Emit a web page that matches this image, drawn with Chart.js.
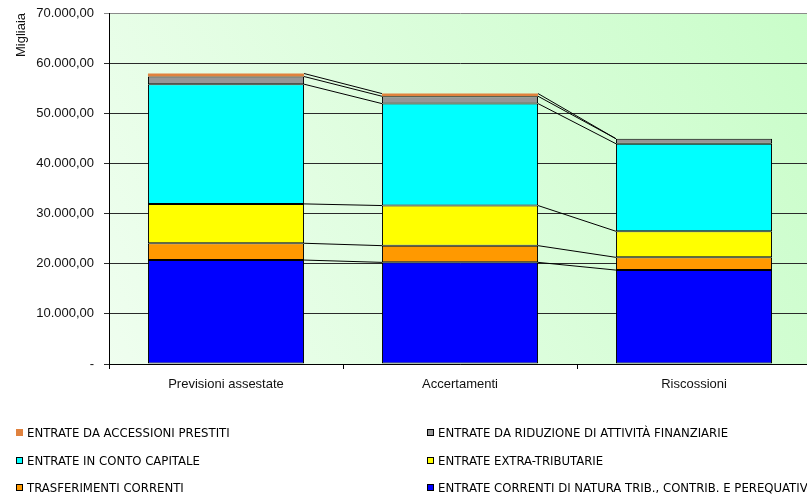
<!DOCTYPE html>
<html>
<head>
<meta charset="utf-8">
<script src="https://cdn.jsdelivr.net/npm/chart.js@4.4.1/dist/chart.umd.min.js"></script>
<style>
    html, body { margin: 0; padding: 0; background: #fff; overflow: hidden; }
    #wrap { position: relative; width: 811px; height: 500px; }
    #legend { position: absolute; left: 0; top: 0; width: 811px; height: 500px; pointer-events: none;
              font-family: 'Liberation Sans Narrow', 'DejaVu Sans Condensed', sans-serif; font-size: 13px; color: #000; }
    .item { position: absolute; white-space: nowrap; line-height: 14px; }
    .box { position: absolute; width: 7px; height: 7px; top: 3px; left: 0; box-sizing: border-box; }
    .txt { position: absolute; left: 11px; top: 0; }
</style>
</head>
<body>
<div id="wrap">
    <canvas id="chart"></canvas>
    <div id="legend"></div>
</div>
<script>
// Values in thousands of euro
const categories = ['Previsioni assestate', 'Accertamenti', 'Riscossioni'];
const entrateCorrenti = [20730, 20270, 18730];
const trasferimentiCorrenti = [3350, 3330, 2540];
const entrateExtraTributarie = [7850, 8000, 5200];
const entrateContoCapitale = [23870, 20330, 17460];
const riduzioneAttivita = [1530, 1470, 1000];
const accensioniPrestiti = [600, 530, 0];

const yTicks = [0, 10000, 20000, 30000, 40000, 50000, 60000, 70000];

const series = [
    { label: 'ENTRATE CORRENTI DI NATURA TRIB., CONTRIB. E PEREQUATIVA', data: entrateCorrenti, color: '#0000ff', border: 1 },
    { label: 'TRASFERIMENTI CORRENTI', data: trasferimentiCorrenti, color: '#ff9900', border: 1 },
    { label: 'ENTRATE EXTRA-TRIBUTARIE', data: entrateExtraTributarie, color: '#ffff00', border: 1 },
    { label: 'ENTRATE IN CONTO CAPITALE', data: entrateContoCapitale, color: '#00ffff', border: 1 },
    { label: 'ENTRATE DA RIDUZIONE DI ATTIVITÀ FINANZIARIE', data: riduzioneAttivita, color: '#969696', border: 1 },
    { label: 'ENTRATE DA ACCESSIONI PRESTITI', data: accensioniPrestiti, color: '#e0823e', border: 0 }
];

function fmtIt(v) {
    if (v === 0) return '-';
    const s = Math.round(v).toString().replace(/\B(?=(\d{3})+(?!\d))/g, '.');
    return s + ',00';
}

const FONT = "'Liberation Sans', Arial, sans-serif";

// light green gradient behind the plot
const plotBackground = {
    id: 'plotBackground',
    beforeDraw(chart) {
        const { ctx, chartArea: a } = chart;
        const g = ctx.createLinearGradient(a.left, a.bottom, a.right, a.top);
        g.addColorStop(0, '#effeef');
        g.addColorStop(1, '#c9fdc9');
        ctx.save();
        ctx.fillStyle = g;
        ctx.fillRect(a.left, a.top, a.right - a.left, a.bottom - a.top);
        ctx.restore();
    }
};

// Excel style series lines between the stacked segments
const seriesLines = {
    id: 'seriesLines',
    afterDatasetsDraw(chart) {
        const ctx = chart.ctx;
        ctx.save();
        ctx.strokeStyle = '#000';
        ctx.lineWidth = 1;
        chart.data.datasets.forEach((ds, i) => {
            const bars = chart.getDatasetMeta(i).data;
            for (let k = 0; k < bars.length - 1; k++) {
                const a = bars[k], b = bars[k + 1];
                ctx.beginPath();
                ctx.moveTo(a.x + a.width / 2, a.y);
                ctx.lineTo(b.x - b.width / 2, b.y);
                ctx.stroke();
            }
        });
        ctx.restore();
    }
};

const chart = new Chart(document.getElementById('chart'), {
    type: 'bar',
    data: {
        labels: categories,
        datasets: series.map(s => ({
            label: s.label,
            data: s.data,
            backgroundColor: s.color,
            borderColor: '#000',
            borderWidth: s.border,
            borderSkipped: false,
            inflateAmount: 0,
            categoryPercentage: 1.0,
            barPercentage: 0.667
        }))
    },
    options: {
        responsive: true,
        maintainAspectRatio: false,
        animation: false,
        layout: { padding: { top: 13, bottom: 99, left: 0, right: 0 } },
        plugins: {
            legend: { display: false },
            tooltip: { enabled: false }
        },
        scales: {
            x: {
                stacked: true,
                afterFit(scale) { scale.height = 37; },
                grid: { display: true, drawOnChartArea: false, drawTicks: true, tickLength: 5, offset: true, color: '#000' },
                border: { color: '#000', width: 1 },
                ticks: { color: '#111', padding: 8, font: { family: FONT, size: 13 } }
            },
            y: {
                stacked: true,
                min: 0,
                max: 70000,
                afterFit(scale) {
                    scale.width = 109;
                    scale.paddingTop = 0;
                    scale.paddingBottom = 0;
                },
                afterBuildTicks(scale) { scale.ticks = yTicks.map(v => ({ value: v })); },
                grid: {
                    color: c => (c.tick && c.tick.value === 70000) ? '#8a8a8a' : '#2a2a2a',
                    tickLength: 5
                },
                border: { color: '#000', width: 1 },
                ticks: {
                    color: '#111',
                    padding: 10,
                    font: { family: FONT, size: 13 },
                    callback: v => fmtIt(v)
                },
                title: {
                    display: true,
                    text: 'Migliaia',
                    align: 'end',
                    color: '#111',
                    padding: { top: 14, bottom: 0 },
                    font: { family: FONT, size: 13 }
                }
            }
        }
    },
    plugins: [plotBackground, seriesLines]
});

// two column legend, top series first
const legend = document.getElementById('legend');
const order = series.slice().reverse();
const rowsY = [433, 461, 488];
const colsX = [16, 427];
order.forEach((s, i) => {
    const item = document.createElement('div');
    item.className = 'item';
    item.style.left = colsX[i % 2] + 'px';
    item.style.top = (rowsY[Math.floor(i / 2)] - 7) + 'px';
    const box = document.createElement('div');
    box.className = 'box';
    box.style.background = s.color;
    box.style.border = s.border ? '1px solid #000' : 'none';
    const txt = document.createElement('span');
    txt.className = 'txt';
    txt.textContent = s.label;
    item.appendChild(box);
    item.appendChild(txt);
    legend.appendChild(item);
});
</script>
</body>
</html>
